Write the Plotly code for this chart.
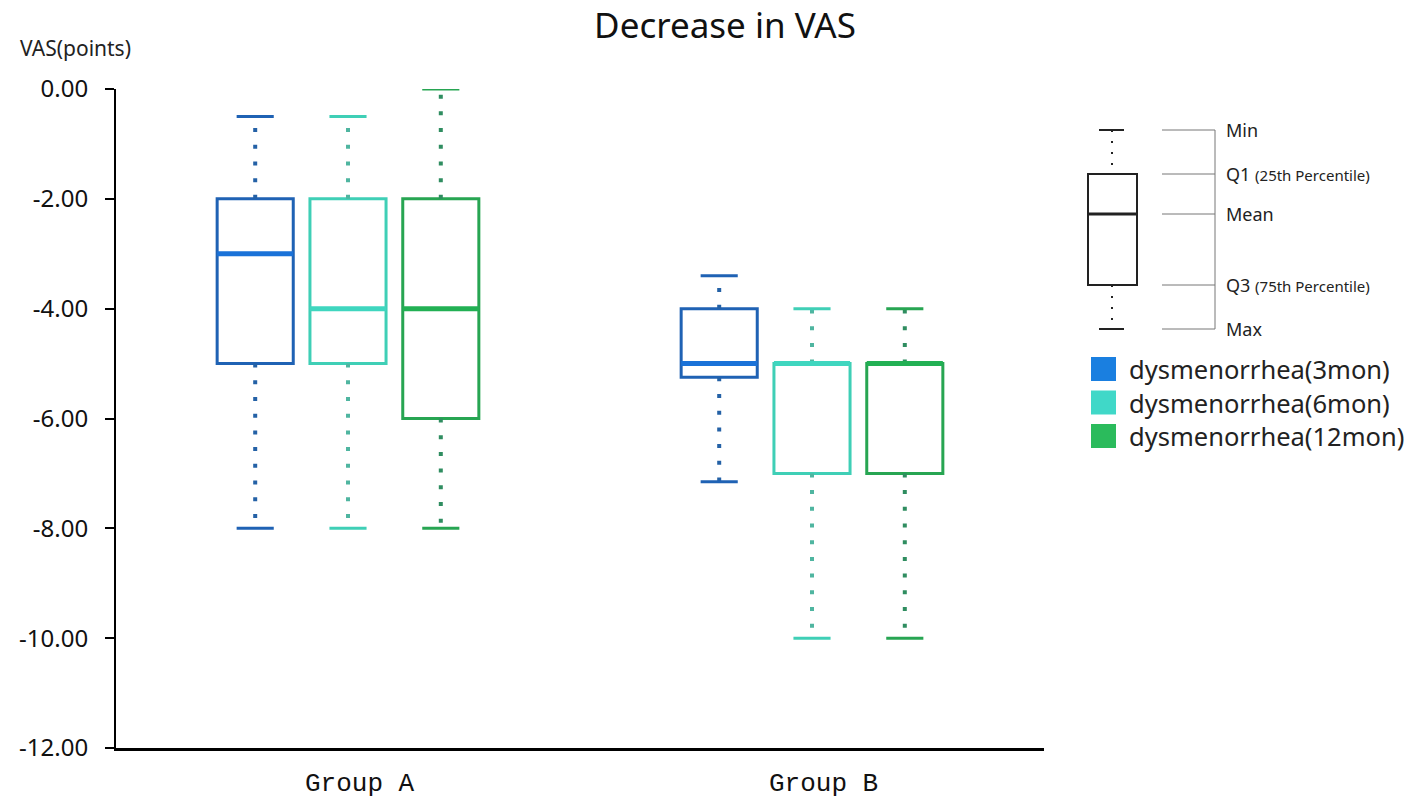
import plotly.graph_objects as go

# data (values are decreases, so negative)
groups = ["Group A", "Group B"]
series = ["dysmenorrhea(3mon)", "dysmenorrhea(6mon)", "dysmenorrhea(12mon)"]

cap_top_3mon = [-0.5, -3.4]
box_top_3mon = [-2, -4]
median_3mon = [-3, -5]
box_bottom_3mon = [-5, -5.25]
cap_bottom_3mon = [-8, -7.15]

cap_top_6mon = [-0.5, -4]
box_top_6mon = [-2, -5]
median_6mon = [-4, -5]
box_bottom_6mon = [-5, -7]
cap_bottom_6mon = [-8, -10]

cap_top_12mon = [0, -4]
box_top_12mon = [-2, -5]
median_12mon = [-4, -5]
box_bottom_12mon = [-6, -7]
cap_bottom_12mon = [-8, -10]

y_ticks = [0, -2, -4, -6, -8, -10, -12]

stats = [
    (cap_top_3mon, box_top_3mon, median_3mon, box_bottom_3mon, cap_bottom_3mon),
    (cap_top_6mon, box_top_6mon, median_6mon, box_bottom_6mon, cap_bottom_6mon),
    (cap_top_12mon, box_top_12mon, median_12mon, box_bottom_12mon, cap_bottom_12mon),
]

line_colors = ["#1f62b4", "#3fcfb6", "#27a552"]
median_colors = ["#1a72d8", "#3fd6bf", "#22b054"]
dot_colors = ["#2461a6", "#4fb5a0", "#2f8d60"]
swatch_colors = ["#1a7fe0", "#40d8c8", "#2bbb5c"]

offsets = [-0.2, 0, 0.2]
box_w = 0.164
cap_w = 0.08

fig = go.Figure()

for i, (ctop, btop, med, bbot, cbot) in enumerate(stats):
    xs = [g + offsets[i] for g in range(len(groups))]

    # dotted whiskers
    wx, wy = [], []
    for x, a, b, c, d in zip(xs, ctop, btop, bbot, cbot):
        wx += [x, x, None, x, x, None]
        wy += [b, a, None, c, d, None]
    fig.add_trace(go.Scatter(x=wx, y=wy, mode="lines", showlegend=False, hoverinfo="skip",
                             line=dict(color=dot_colors[i], width=4, dash="4px,12.7px")))

    # caps
    cx, cy = [], []
    for x, a, d in zip(xs, ctop, cbot):
        cx += [x - cap_w / 2, x + cap_w / 2, None, x - cap_w / 2, x + cap_w / 2, None]
        cy += [a, a, None, d, d, None]
    fig.add_trace(go.Scatter(x=cx, y=cy, mode="lines", showlegend=False, hoverinfo="skip",
                             line=dict(color=line_colors[i], width=3)))

    # boxes
    fig.add_trace(go.Box(x=xs, q1=bbot, q3=btop, median=med, lowerfence=bbot, upperfence=btop,
                         width=box_w, whiskerwidth=0, name=series[i], showlegend=False,
                         fillcolor="rgba(255,255,255,0)", line=dict(color=line_colors[i], width=3)))

    # thicker median line
    mx, my = [], []
    for x, m in zip(xs, med):
        mx += [x - box_w / 2, x + box_w / 2, None]
        my += [m, m, None]
    fig.add_trace(go.Scatter(x=mx, y=my, mode="lines", showlegend=False, hoverinfo="skip",
                             line=dict(color=median_colors[i], width=5)))


# pixel -> paper helpers (plot area spans x 116..1044, y 89..748 on the page)
def px(x):
    return (x - 116) / 928


def py(y):
    return (748 - y) / 659


shapes = []
annotations = []

# manual legend with filled squares
for i, name in enumerate(series):
    y0 = 357 + i * 33.5
    shapes.append(dict(type="rect", xref="paper", yref="paper",
                       x0=px(1091), x1=px(1116), y0=py(y0), y1=py(y0 + 24),
                       fillcolor=swatch_colors[i], line=dict(width=0)))
    annotations.append(dict(xref="paper", yref="paper", x=px(1127), y=py(y0 + 12),
                            text=name, showarrow=False, xanchor="left", yanchor="middle",
                            font=dict(family="Noto Sans", size=25.5, color="#222")))

# key explaining the box parts
k = dict(xref="paper", yref="paper")
shapes += [
    dict(type="rect", x0=px(1088), x1=px(1137), y0=py(174), y1=py(285),
         line=dict(color="#222", width=2), **k),
    dict(type="line", x0=px(1088), x1=px(1137), y0=py(214), y1=py(214),
         line=dict(color="#222", width=3), **k),
    dict(type="line", x0=px(1099), x1=px(1124), y0=py(130), y1=py(130),
         line=dict(color="#222", width=2), **k),
    dict(type="line", x0=px(1099), x1=px(1124), y0=py(329), y1=py(329),
         line=dict(color="#222", width=2), **k),
    dict(type="line", x0=px(1112), x1=px(1112), y0=py(130), y1=py(174),
         line=dict(color="#222", width=2, dash="2px,9px"), **k),
    dict(type="line", x0=px(1112), x1=px(1112), y0=py(285), y1=py(329),
         line=dict(color="#222", width=2, dash="2px,9px"), **k),
    dict(type="line", x0=px(1215), x1=px(1215), y0=py(130), y1=py(329),
         line=dict(color="#777", width=1), **k),
]
key_labels = ["Min", "Q1 <span style='font-size:15px'>(25th Percentile)</span>", "Mean",
              "Q3 <span style='font-size:15px'>(75th Percentile)</span>", "Max"]
key_levels = [130, 174, 214, 285, 329]
for lab, ly in zip(key_labels, key_levels):
    shapes.append(dict(type="line", x0=px(1162), x1=px(1215), y0=py(ly), y1=py(ly),
                       line=dict(color="#777", width=1), **k))
    annotations.append(dict(x=px(1224), y=py(ly), text=lab, showarrow=False,
                            xanchor="left", yanchor="middle",
                            font=dict(family="Noto Sans", size=18, color="#222"), **k))

# y axis title at top left
annotations.append(dict(xref="paper", yref="paper", x=px(18), y=py(48), text="VAS(points)",
                        showarrow=False, xanchor="left", yanchor="middle",
                        font=dict(family="Noto Sans", size=21, color="#222")))

# the page body has an 8px margin, so the figure is 8px smaller and margins 8px less
fig.update_layout(
    width=1406, height=793,
    margin=dict(l=108, r=370, t=81, b=53),
    plot_bgcolor="white", paper_bgcolor="white",
    title=dict(text="Decrease in VAS", x=px(725), xanchor="center", xref="paper",
               y=1 - 18 / 793, yanchor="middle", yref="container",
               font=dict(family="Noto Sans", size=35, color="#111")),
    shapes=shapes, annotations=annotations,
    showlegend=False,
)
# labels sit a little right of the group centre in the reference
fig.update_xaxes(type="linear", range=[-0.5, 1.5], tickvals=[g + 0.025 for g in range(len(groups))],
                 ticktext=groups, automargin=False,
                 showline=True, linecolor="black", linewidth=3, showgrid=False, zeroline=False,
                 ticks="", ticklabelstandoff=9,
                 tickfont=dict(family="Liberation Mono", size=26, color="#111"))
fig.update_yaxes(range=[-12, 0], tickvals=y_ticks, ticktext=[f"{v:.2f}" for v in y_ticks],
                 showline=True, linecolor="black", linewidth=2, showgrid=False, zeroline=False,
                 automargin=False,
                 ticks="outside", ticklen=9, tickwidth=2, tickcolor="black", ticklabelstandoff=12,
                 tickfont=dict(family="Noto Sans", size=24, color="#111"))

fig.write_html("out.html")
